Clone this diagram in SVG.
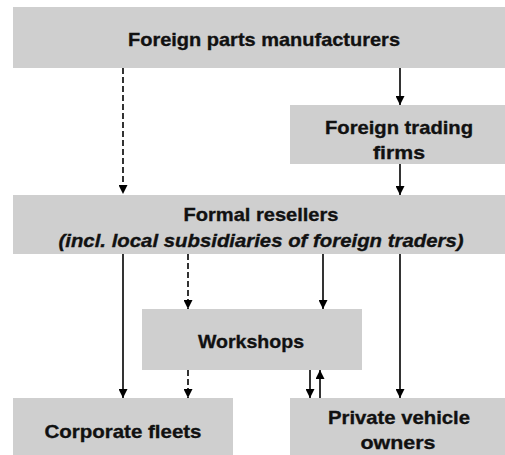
<svg xmlns="http://www.w3.org/2000/svg" width="505" height="455" viewBox="0 0 505 455">
<defs>
<marker id="ah" viewBox="0 0 10 10" refX="10" refY="5" markerWidth="9" markerHeight="9" markerUnits="userSpaceOnUse" orient="auto">
<path d="M0,0 L10,5 L0,10 z" fill="#000"/>
</marker>
</defs>
<style>
.box{fill:#cfcfcf;}
.t{font-family:"Liberation Sans",Arial,sans-serif;font-weight:bold;font-size:19px;fill:#111;stroke:#111;stroke-width:0.35;text-anchor:middle;}
.it{font-style:italic;}
.c{stroke:#000;stroke-width:1.6;fill:none;marker-end:url(#ah);}
.d{stroke-dasharray:6,3;}
</style>
<rect width="505" height="455" fill="#fff"/>
<g id="manufacturers"><rect class="box" x="13" y="7" width="492" height="61"/><text class="t" x="264" y="46" textLength="272" lengthAdjust="spacingAndGlyphs">Foreign parts manufacturers</text></g>
<g id="trading"><rect class="box" x="290" y="105" width="215" height="59"/><text class="t" x="399" y="134" textLength="148" lengthAdjust="spacingAndGlyphs">Foreign trading</text><text class="t" x="399" y="159" textLength="52" lengthAdjust="spacingAndGlyphs">firms</text></g>
<g id="resellers"><rect class="box" x="13" y="195" width="492" height="59"/><text class="t" x="261" y="221" textLength="155" lengthAdjust="spacingAndGlyphs">Formal resellers</text><text class="t it" x="261" y="247" textLength="405" lengthAdjust="spacingAndGlyphs">(incl. local subsidiaries of foreign traders)</text></g>
<g id="workshops"><rect class="box" x="142" y="309" width="220" height="61"/><text class="t" x="251" y="348" textLength="106" lengthAdjust="spacingAndGlyphs">Workshops</text></g>
<g id="fleets"><rect class="box" x="13" y="398" width="220" height="57"/><text class="t" x="123" y="438" textLength="157" lengthAdjust="spacingAndGlyphs">Corporate fleets</text></g>
<g id="private"><rect class="box" x="290" y="398" width="215" height="57"/><text class="t" x="399" y="424" textLength="142" lengthAdjust="spacingAndGlyphs">Private vehicle</text><text class="t" x="398" y="449" textLength="75" lengthAdjust="spacingAndGlyphs">owners</text></g>
<g id="connectors">
<line class="c d" x1="123" y1="68" x2="123" y2="194"/>
<line class="c" x1="400" y1="68" x2="400" y2="105"/>
<line class="c" x1="400" y1="164" x2="400" y2="195"/>
<line class="c" x1="123" y1="254" x2="123" y2="398"/>
<line class="c d" x1="188" y1="254" x2="188" y2="309"/>
<line class="c" x1="323" y1="254" x2="323" y2="309"/>
<line class="c" x1="400" y1="254" x2="400" y2="398"/>
<line class="c d" x1="188" y1="370" x2="188" y2="398"/>
<line class="c" x1="310" y1="370" x2="310" y2="398"/>
<line class="c" x1="320" y1="398" x2="320" y2="370"/>
</g>
</svg>
